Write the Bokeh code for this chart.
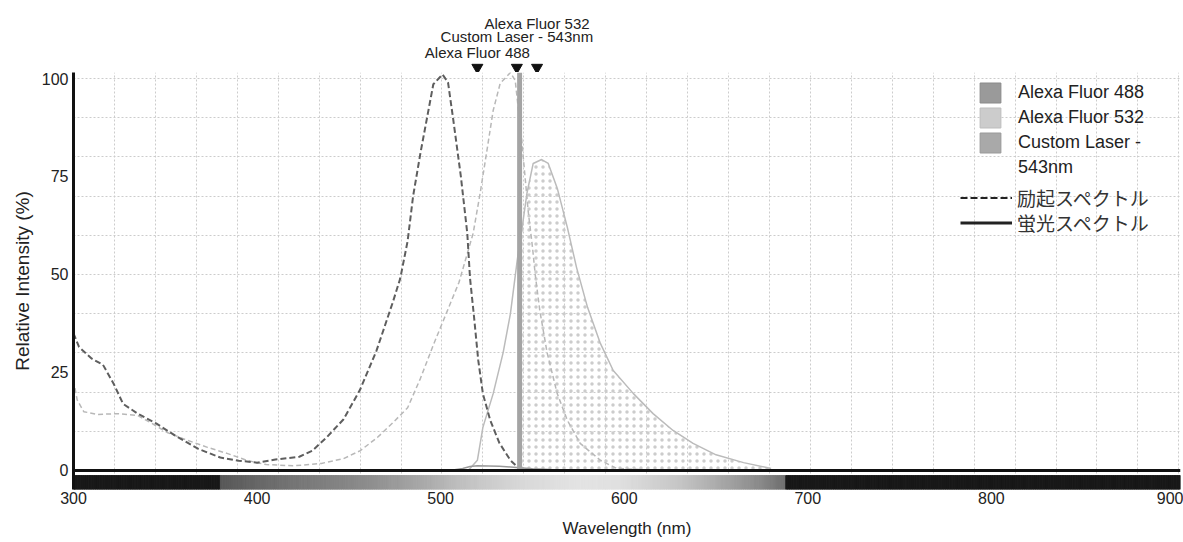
import numpy as np
from bokeh.plotting import figure
from bokeh.models import Range1d, FixedTicker, Span, Legend, LegendItem
from bokeh.layouts import column
from bokeh.embed import file_html
from bokeh.resources import INLINE
from bokeh.core.properties import value

FONT = "Liberation Sans"
JP_FONT = "Noto Sans CJK JP"

# ---------------- data ----------------
ex488_nm = [300, 303, 310, 316, 322, 327, 335, 345, 355, 368, 380, 390, 400, 410, 423, 430,
            438, 447, 456, 465, 474, 478, 482, 485, 489, 493, 496, 501, 504, 507, 511, 514.5,
            516, 518, 520.5, 523, 527, 532, 538, 542, 545]
ex488_val = [35, 31.5, 28.5, 27, 22, 17, 14.5, 12, 9, 5.5, 3.3, 2.5, 2, 2.8, 3.5, 5,
             8.5, 13, 20.5, 30.5, 43, 49, 58.5, 70, 81, 91, 98.5, 101, 99, 89, 75, 60.5,
             49, 40, 28, 19.6, 12.8, 7, 2.6, 0.8, 0]

ex532_nm = [300, 302, 305.6, 313, 324, 335, 342, 351, 362, 373, 384, 395, 405, 420, 435,
            447, 456, 465.5, 474, 482, 489, 496, 503, 510, 517.7, 521.5, 525, 528.6, 532.4,
            538, 540.6, 544, 547.7, 550, 551.5, 554, 558, 563.5, 569, 576, 587, 596, 610, 630]
ex532_val = [23, 18, 15, 14.3, 14.5, 14, 12.2, 9.7, 7.7, 5.9, 4.3, 2.5, 1.5, 1.2, 1.8,
             3, 5, 8.4, 12.2, 16, 23.5, 32, 40, 48, 60.5, 70.7, 81, 91.8, 98.7,
             101.5, 99.5, 85, 66, 57, 50, 40.8, 30, 19.6, 12.8, 6.9, 2.6, 0.5, 0.2, 0]

em532_nm = [515, 520, 523, 528.6, 534, 538, 541.7, 544.4, 547, 550.4, 555, 558.6, 563.5,
            569, 574, 580, 587, 594, 605, 615.7, 626.6, 637.5, 650, 665, 680]
em532_val = [0, 2.6, 11, 19.6, 30, 40, 53.6, 62, 70.7, 78.3, 79.3, 78.3, 72,
             62, 51.8, 41.6, 32.4, 25.5, 19.6, 14.5, 10.2, 6.9, 4, 2, 0.5]

em488_nm = [505, 512, 516, 520, 526, 532, 538, 543, 550, 560, 575]
em488_val = [0, 0.5, 1.0, 1.2, 1.15, 1.05, 0.9, 0.7, 0.45, 0.25, 0]

laser_nm = [543]
laser_top = [101.5]

marker_nm = [520, 541.5, 552.5]
marker_labels = ["Alexa Fluor 488", "Custom Laser - 543nm", "Alexa Fluor 532"]

legend_labels = ["Alexa Fluor 488", "Alexa Fluor 532", "Custom Laser -", "543nm"]
type_labels = ["励起スペクトル", "蛍光スペクトル"]

x_ticks = [300, 400, 500, 600, 700, 800, 900]
y_ticks = [0, 25, 50, 75, 100]

# colour strip under the axis (wavelength -> grey level)
cb_nm = [300, 379.9, 380, 424, 462, 489, 516, 543, 576, 598, 630, 652, 674, 687.5, 687.6, 903]
cb_grey = [24, 24, 88, 120, 142, 168, 196, 216, 228, 224, 198, 170, 138, 112, 24, 24]

# ---------------- figure ----------------
X0, X1 = 300, 903
Y0, Y1 = -4.85, 101.5

p = figure(width=1183, height=470, x_range=Range1d(X0, X1), y_range=Range1d(Y0, Y1),
           output_backend="svg", toolbar_location=None,
           min_border_left=73, min_border_right=3, min_border_top=0, min_border_bottom=53)
p.outline_line_color = None

# decorative grid
p.xgrid.ticker = FixedTicker(ticks=list(300 + 22.3 * np.arange(1, 28)))
p.ygrid.ticker = FixedTicker(ticks=list(range(10, 101, 10)))
for g in (p.xgrid, p.ygrid):
    g.grid_line_color = "#cccccc"
    g.grid_line_dash = "2 2"
    g.grid_line_width = 1

# axes
p.xaxis.ticker = FixedTicker(ticks=x_ticks)
p.yaxis.ticker = FixedTicker(ticks=y_ticks)
p.xaxis.axis_label = "Wavelength (nm)"
p.yaxis.axis_label = "Relative Intensity (%)"
for ax in (p.xaxis[0], p.yaxis[0]):
    ax.major_tick_line_color = None
    ax.minor_tick_line_color = None
    ax.major_tick_out = 0
    ax.major_tick_in = 0
    ax.minor_tick_out = 0
    ax.minor_tick_in = 0
    ax.major_label_text_font = FONT
    ax.major_label_text_font_size = "16px"
    ax.major_label_text_color = "#222222"
    ax.axis_label_text_font = FONT
    ax.axis_label_text_font_style = "normal"
    ax.axis_label_text_color = "#222222"
p.xaxis.axis_label_text_font_size = "17px"
p.yaxis.axis_label_text_font_size = "19px"
p.xaxis.axis_line_color = None
p.xaxis.major_label_standoff = 2
p.xaxis.axis_label_standoff = 12
p.yaxis.axis_line_color = "#111111"
p.yaxis.axis_line_width = 3
p.yaxis.major_label_standoff = 5
p.yaxis.axis_label_standoff = 6

# colour strip
edges = np.arange(X0, X1 + 1, 1.0)
mids = (edges[:-1] + edges[1:]) / 2
greys = np.interp(mids, cb_nm, cb_grey).astype(int)
cols = ["#%02x%02x%02x" % (g, g, g) for g in greys]
p.quad(left=edges[:-1], right=edges[1:], bottom=Y0, top=-1.3, fill_color=cols, line_color=cols)

# spectra
em_mask = [i for i, x in enumerate(em532_nm) if x >= 544]
p.varea(x=[em532_nm[i] for i in em_mask], y1=0, y2=[em532_val[i] for i in em_mask],
        fill_alpha=0, hatch_pattern="dot", hatch_color="#cccccc", hatch_scale=7, hatch_weight=0.7)
p.line(ex532_nm, ex532_val, line_color="#b8b8b8", line_width=1.5, line_dash="5 3")
p.line(em532_nm, em532_val, line_color="#bbbbbb", line_width=1.5)
p.line(ex488_nm, ex488_val, line_color="#5e5e5e", line_width=2, line_dash="6 3")
p.line(em488_nm, em488_val, line_color="#999999", line_width=1.5)
p.vbar(x=laser_nm, width=2.7, bottom=0, top=laser_top, fill_color="#a4a4a4", line_color=None)

p.add_layout(Span(location=0, dimension="width", line_color="#111111", line_width=3))

# legends (proxy renderers hold a single NaN so they never show in the plot)
nan = np.array([np.nan])
r1 = p.quad(left=nan, right=nan, top=nan, bottom=nan, fill_color="#9a9a9a", line_color="#8a8a8a")
r2 = p.quad(left=nan, right=nan, top=nan, bottom=nan, fill_color="#cccccc", line_color="#bdbdbd")
r3 = p.quad(left=nan, right=nan, top=nan, bottom=nan, fill_color="#a9a9a9", line_color="#999999")
r4 = p.quad(left=nan, right=nan, top=nan, bottom=nan, fill_alpha=0, line_alpha=0)
leg1 = Legend(items=[LegendItem(label=legend_labels[0], renderers=[r1]),
                     LegendItem(label=legend_labels[1], renderers=[r2]),
                     LegendItem(label=legend_labels[2], renderers=[r3]),
                     LegendItem(label=legend_labels[3], renderers=[r4])],
              location=(904, 309), glyph_width=26, glyph_height=25, spacing=0,
              padding=0, margin=0, label_standoff=15, border_line_color=None,
              background_fill_alpha=0, label_text_font=FONT, label_text_font_size="18px",
              label_text_color="#222222")
p.add_layout(leg1)

l1 = p.line(nan, nan, line_color="#222222", line_width=2, line_dash="7 3")
l2 = p.line(nan, nan, line_color="#222222", line_width=3)
for lab, rend, ypos in ((type_labels[0], l1, 278), (type_labels[1], l2, 253)):
    leg = Legend(items=[LegendItem(label=lab, renderers=[rend])],
                 location=(887, ypos), glyph_width=52, glyph_height=27,
                 padding=0, margin=0, label_standoff=5, border_line_color=None,
                 background_fill_alpha=0, label_text_font=JP_FONT, label_text_font_size="19px",
                 label_text_color="#333333")
    p.add_layout(leg)

# ---------------- top marker strip ----------------
top = figure(width=1183, height=72, x_range=p.x_range, y_range=Range1d(0, 72),
             output_backend="svg", toolbar_location=None,
             min_border_left=73, min_border_right=3, min_border_top=0, min_border_bottom=0)
top.axis.visible = False
top.grid.visible = False
top.outline_line_color = None
top.scatter(x=marker_nm, y=[5] * len(marker_nm), marker="inverted_triangle", size=11,
            fill_color="#111111", line_color="#111111")
top.text(x=marker_nm, y=[20.3, 36, 49.3], text=marker_labels, text_align="center",
         text_baseline="middle", text_font=value(FONT), text_font_size="15px",
         text_color="#222222")

layout = column(top, p)
open("out.html", "w").write(file_html(layout, INLINE))
